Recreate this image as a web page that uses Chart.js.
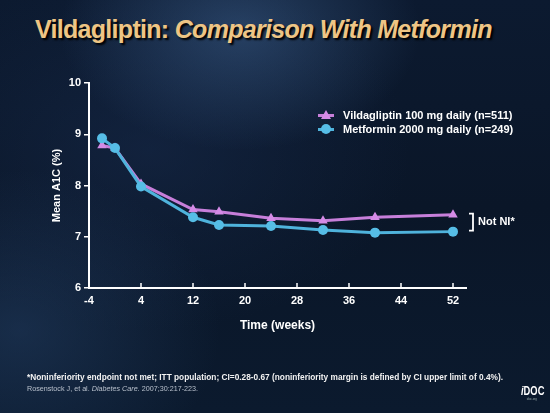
<!DOCTYPE html>
<html>
<head>
  <title>Vildagliptin: Comparison With Metformin</title>
  <script src="https://cdn.jsdelivr.net/npm/chart.js"></script>
  <style>
    html, body { margin: 0; padding: 0; }
    body {
      width: 550px;
      height: 413px;
      overflow: hidden;
      position: relative;
      font-family: "Liberation Sans", Arial, sans-serif;
      background:
        radial-gradient(ellipse 180px 120px at 240px 30px, rgba(60,95,140,0.55), rgba(0,0,0,0)),
        radial-gradient(ellipse 200px 160px at 20px 330px, rgba(40,70,110,0.45), rgba(0,0,0,0)),
        radial-gradient(ellipse 260px 180px at 150px 150px, rgba(25,45,80,0.5), rgba(0,0,0,0)),
        linear-gradient(180deg, #0c1a30 0%, #0a1628 50%, #0b1a2e 100%);
    }
    .title {
      position: absolute;
      left: 35px; top: 15px;
      width: 456px;
      text-align: center;
      font-size: 25px;
      font-weight: bold;
      color: #eec585;
      text-shadow: 2px 2px 2px #000;
      letter-spacing: -0.7px;
      white-space: nowrap;
    }
    .title i { font-style: italic; }
    #wrap { position: absolute; left: 0; top: 0; width: 550px; height: 413px; }
    .legend {
      position: absolute;
      left: 318px; top: 108px;
      color: #fff;
      font-size: 11px;
      font-weight: bold;
    }
    .legend div { height: 14px; line-height: 14px; position: relative; padding-left: 25px; }
    .legend .ln { position: absolute; left: 0; top: 6px; width: 16px; height: 3px; }
    .legend .tri {
      position: absolute; left: 3px; top: 2px;
      width: 0; height: 0;
      border-left: 5px solid transparent; border-right: 5px solid transparent;
      border-bottom: 9px solid #d58be6;
    }
    .legend .dot {
      position: absolute; left: 3px; top: 2px;
      width: 10px; height: 10px; border-radius: 50%; background: #56bde6;
    }
    .foot1 {
      position: absolute; left: 27px; top: 372px;
      font-size: 8.3px; font-weight: bold; color: #f2f2f2; white-space: nowrap;
    }
    .foot2 {
      position: absolute; left: 27px; top: 384px;
      font-size: 7.2px; color: #b8c0cc; white-space: nowrap;
    }
    .logo {
      position: absolute; left: 521px; top: 383px;
      width: 30px; text-align: center;
      color: #fff; font-size: 13px; font-weight: bold;
      transform: scaleX(0.72); transform-origin: left top;
    }
    .logo small {
      display: block; font-size: 4px; color: #9aa; font-weight: normal;
      margin-top: -2px;
    }
  </style>
</head>
<body>
  <div class="title">Vildagliptin: <i>Comparison With Metformin</i></div>
  <div id="wrap"><canvas id="chart" width="550" height="413"></canvas></div>
  <div class="legend">
    <div><span class="ln" style="background:#c77fda"></span><span class="tri"></span>Vildagliptin 100 mg daily (n=511)</div>
    <div><span class="ln" style="background:#4fb3dc"></span><span class="dot"></span>Metformin 2000 mg daily (n=249)</div>
  </div>
  <div class="foot1">*Noninferiority endpoint not met; ITT population; CI=0.28-0.67 (noninferiority margin is defined by CI upper limit of 0.4%).</div>
  <div class="foot2">Rosenstock J, et al. <i>Diabetes Care.</i> 2007;30:217-223.</div>
  <div class="logo"><i>i</i>DOC<small>idoc.org</small></div>

  <script>
    const weeks = [-2, 0, 4, 12, 16, 24, 32, 40, 52];
    const vildagliptin = [8.78, 8.73, 8.03, 7.53, 7.49, 7.36, 7.31, 7.38, 7.43];
    const metformin = [8.92, 8.73, 7.98, 7.38, 7.23, 7.21, 7.13, 7.08, 7.10];
    const xTicks = [-4, 4, 12, 20, 28, 36, 44, 52];
    const yTicks = [6, 7, 8, 9, 10];

    const toPoints = vals => weeks.map((w, i) => ({ x: w, y: vals[i] }));

    // inward tick marks on x axis + "Not NI*" bracket
    const extras = {
      id: 'extras',
      afterDraw(chart) {
        const c = chart.ctx;
        const xs = chart.scales.x, ys = chart.scales.y;
        c.save();
        c.strokeStyle = '#ffffff';
        c.lineWidth = 1.5;
        xTicks.forEach(t => {
          const px = xs.getPixelForValue(t);
          c.beginPath();
          c.moveTo(px, ys.bottom);
          c.lineTo(px, ys.bottom - 5);
          c.stroke();
        });
        const last = weeks.length - 1;
        const bx = xs.getPixelForValue(weeks[last]) + 16;
        const y1 = ys.getPixelForValue(vildagliptin[last]) - 1;
        const y2 = ys.getPixelForValue(metformin[last]) - 1;
        c.lineWidth = 1.8;
        c.beginPath();
        c.moveTo(bx, y1);
        c.lineTo(bx + 4, y1);
        c.lineTo(bx + 4, y2);
        c.lineTo(bx, y2);
        c.stroke();
        c.fillStyle = '#ffffff';
        c.font = 'bold 11px "Liberation Sans", Arial, sans-serif';
        c.textBaseline = 'middle';
        c.fillText('Not NI*', bx + 9, (y1 + y2) / 2);
        c.restore();
      }
    };

    const ctx = document.getElementById('chart').getContext('2d');
    const chart = new Chart(ctx, {
      type: 'line',
      data: {
        datasets: [
          {
            label: 'Vildagliptin 100 mg daily (n=511)',
            data: toPoints(vildagliptin),
            borderColor: '#c77fda',
            backgroundColor: '#d58be6',
            pointStyle: 'triangle',
            pointRadius: 5.5,
            borderWidth: 3,
            pointBorderWidth: 0,
            order: 1
          },
          {
            label: 'Metformin 2000 mg daily (n=249)',
            data: toPoints(metformin),
            borderColor: '#4fb3dc',
            backgroundColor: '#56bde6',
            pointStyle: 'circle',
            pointRadius: 5,
            borderWidth: 3,
            pointBorderWidth: 0,
            order: 0
          }
        ]
      },
      options: {
        responsive: false,
        animation: false,
        layout: { padding: { left: 46, top: 83, right: 84, bottom: 76 } },
        plugins: { legend: { display: false }, tooltip: { enabled: false } },
        scales: {
          x: {
            type: 'linear',
            min: -4,
            max: 54,
            afterBuildTicks: s => { s.ticks = xTicks.map(v => ({ value: v })); },
            afterFit: s => { s.height = 49; },
            border: { color: '#ffffff', width: 2 },
            grid: { display: true, drawOnChartArea: false, drawTicks: false },
            ticks: {
              color: '#ffffff',
              padding: 6,
              maxRotation: 0,
              font: { family: '"Liberation Sans", Arial, sans-serif', size: 11, weight: 'bold' }
            },
            title: {
              display: true,
              text: 'Time (weeks)',
              color: '#ffffff',
              font: { family: '"Liberation Sans", Arial, sans-serif', size: 12, weight: 'bold' }
            }
          },
          y: {
            min: 6,
            max: 10,
            afterBuildTicks: s => { s.ticks = yTicks.map(v => ({ value: v })); },
            afterFit: s => { s.width = 43; },
            border: { color: '#ffffff', width: 2 },
            grid: { drawOnChartArea: false, color: '#ffffff', tickLength: 5, lineWidth: 1.5 },
            ticks: {
              color: '#ffffff',
              padding: 3,
              font: { family: '"Liberation Sans", Arial, sans-serif', size: 11, weight: 'bold' }
            },
            title: {
              display: true,
              text: 'Mean A1C (%)',
              color: '#ffffff',
              font: { family: '"Liberation Sans", Arial, sans-serif', size: 11, weight: 'bold' }
            }
          }
        }
      },
      plugins: [extras]
    });
  </script>
</body>
</html>
